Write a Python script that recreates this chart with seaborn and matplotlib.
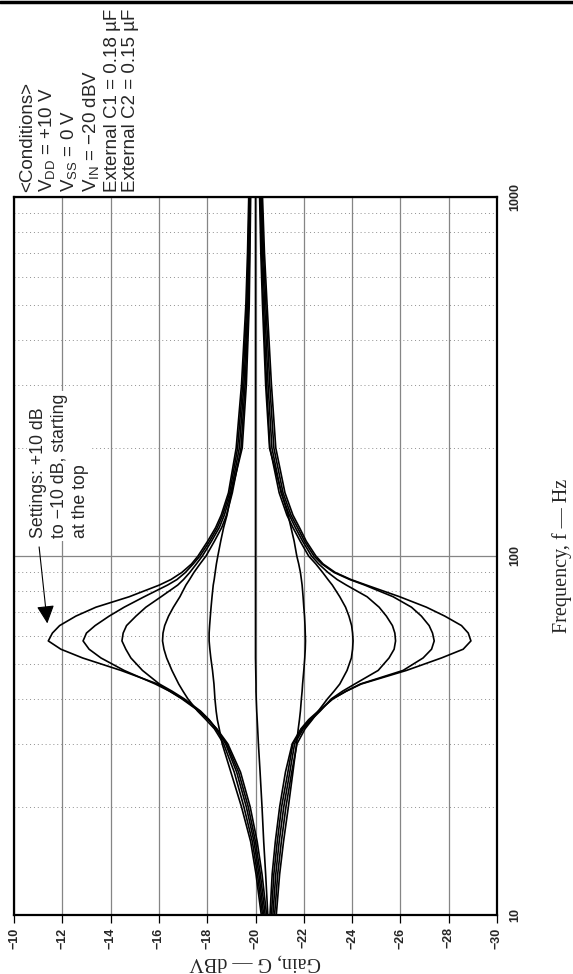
import pandas as pd
import matplotlib
matplotlib.use("Agg")
import matplotlib.pyplot as plt
import seaborn as sns
from matplotlib.lines import Line2D

freqs = [10, 13, 16, 20, 25, 30, 33, 35, 37, 40, 42, 44, 48, 52, 55, 58, 61, 64, 68, 72, 77, 83,
         86, 90, 95, 100, 110, 120, 130, 150, 200, 300, 500, 700, 1000]

# gain (dBV) per setting
gain_p10 = [-20.46, -20.27, -20.07, -19.78, -19.38, -18.85, -18.40, -18.05, -17.65, -16.95, -16.45, -15.95,
            -14.43, -12.84, -11.94, -11.42, -11.59, -11.89, -12.56, -13.39, -14.77, -16.02, -16.50, -16.95,
            -17.35, -17.62, -18.02, -18.35, -18.58, -18.88, -19.20, -19.42, -19.60, -19.67, -19.72]
gain_p8 = [-20.40, -20.20, -20.00, -19.70, -19.30, -18.80, -18.38, -18.06, -17.68, -17.00, -16.45, -15.85,
           -14.56, -13.60, -13.11, -12.86, -13.00, -13.36, -13.94, -14.56, -15.39, -16.36, -16.75, -17.10,
           -17.42, -17.70, -18.10, -18.42, -18.64, -18.93, -19.26, -19.47, -19.64, -19.70, -19.74]
gain_p6 = [-20.34, -20.14, -19.94, -19.62, -19.22, -18.76, -18.36, -18.08, -17.72, -17.05, -16.55, -16.02,
           -15.32, -14.84, -14.63, -14.47, -14.52, -14.66, -15.05, -15.46, -16.09, -16.78, -17.02, -17.28,
           -17.55, -17.80, -18.18, -18.50, -18.71, -18.98, -19.33, -19.52, -19.68, -19.72, -19.76]
gain_p4 = [-20.29, -20.08, -19.87, -19.52, -19.12, -18.68, -18.30, -17.95, -17.60, -17.20, -17.00, -16.82,
           -16.54, -16.32, -16.21, -16.15, -16.17, -16.24, -16.40, -16.60, -16.87, -17.12, -17.27, -17.45,
           -17.70, -17.95, -18.30, -18.60, -18.80, -19.04, -19.40, -19.57, -19.71, -19.75, -19.78]
gain_p2 = [-20.24, -20.02, -19.80, -19.42, -18.98, -18.62, -18.50, -18.42, -18.37, -18.32, -18.30, -18.28,
           -18.22, -18.15, -18.11, -18.08, -18.08, -18.10, -18.13, -18.16, -18.20, -18.25, -18.29, -18.33,
           -18.38, -18.44, -18.56, -18.68, -18.82, -19.00, -19.45, -19.62, -19.74, -19.77, -19.80]
gain_0 = [-20.51, -20.42, -20.34, -20.27, -20.19, -20.12, -20.09, -20.07, -20.05, -20.03, -20.02, -20.02,
          -20.01, -20.00, -20.00, -20.00, -20.00, -20.00, -20.00, -20.00, -20.00, -20.00, -20.00, -20.00,
          -20.00, -20.00, -20.00, -20.00, -20.00, -20.00, -20.00, -20.00, -20.00, -20.00, -20.00]
gain_m2 = [-20.86, -21.00, -21.16, -21.36, -21.55, -21.70, -21.77, -21.82, -21.86, -21.90, -21.93, -21.95,
           -22.00, -22.04, -22.06, -22.07, -22.06, -22.05, -22.03, -22.00, -21.97, -21.93, -21.90, -21.86,
           -21.79, -21.71, -21.60, -21.47, -21.35, -21.08, -20.58, -20.42, -20.29, -20.22, -20.17]
gain_m4 = [-20.79, -20.92, -21.07, -21.26, -21.50, -21.72, -22.05, -22.35, -22.60, -22.98, -23.25, -23.49,
           -23.79, -23.97, -24.02, -24.04, -24.02, -23.98, -23.87, -23.73, -23.49, -23.18, -23.00, -22.78,
           -22.50, -22.20, -21.85, -21.55, -21.30, -20.98, -20.60, -20.46, -20.33, -20.25, -20.20]
gain_m6 = [-20.72, -20.84, -20.98, -21.17, -21.42, -21.62, -21.98, -22.32, -22.68, -23.14, -23.60, -24.11,
           -25.08, -25.53, -25.74, -25.80, -25.77, -25.67, -25.42, -25.12, -24.62, -23.76, -23.38, -23.00,
           -22.62, -22.32, -21.95, -21.65, -21.40, -21.06, -20.68, -20.52, -20.38, -20.29, -20.23]
gain_m8 = [-20.66, -20.76, -20.90, -21.08, -21.34, -21.55, -21.93, -22.26, -22.65, -23.18, -23.75, -24.34,
           -26.11, -26.94, -27.29, -27.40, -27.33, -27.19, -26.87, -26.46, -25.70, -24.52, -23.90, -23.25,
           -22.75, -22.42, -22.03, -21.74, -21.47, -21.14, -20.76, -20.59, -20.43, -20.33, -20.26]
gain_m10 = [-20.60, -20.69, -20.82, -21.00, -21.24, -21.52, -21.88, -22.20, -22.60, -23.21, -23.75, -24.38,
            -26.25, -27.70, -28.60, -28.92, -28.81, -28.53, -27.84, -27.08, -25.97, -24.59, -23.95, -23.30,
            -22.80, -22.50, -22.10, -21.82, -21.55, -21.22, -20.84, -20.66, -20.48, -20.37, -20.29]

settings = ["+10", "+8", "+6", "+4", "+2", "0", "-2", "-4", "-6", "-8", "-10"]
curves = [gain_p10, gain_p8, gain_p6, gain_p4, gain_p2, gain_0,
          gain_m2, gain_m4, gain_m6, gain_m8, gain_m10]

gain_ticks = [-10, -12, -14, -16, -18, -20, -22, -24, -26, -28, -30]
gain_tick_labels = ["\u221210", "\u221212", "\u221214", "\u221216", "\u221218", "\u221220",
                    "\u221222", "\u221224", "\u221226", "\u221228", "\u221230"]
freq_ticks = [10, 100, 1000]
freq_tick_labels = ["10", "100", "1000"]
minor_freqs = [20, 30, 40, 50, 60, 70, 80, 90, 200, 300, 400, 500, 600, 700, 800, 900]

conditions = ("<Conditions>\n"
              "V$_{\\mathregular{DD}}$ = +10 V\n"
              "V$_{\\mathregular{SS}}$ = 0 V\n"
              "V$_{\\mathregular{IN}}$ = \u221220 dBV\n"
              "External C1 = 0.18 \u00b5F\n"
              "External C2 = 0.15 \u00b5F")
note = "Settings: +10 dB\nto \u221210 dB, starting\nat the top"

sns.set_style("white")
plt.rcParams["font.family"] = ["Liberation Sans", "DejaVu Sans"]
serif = ["Liberation Serif", "DejaVu Serif"]

rows = [(s, f, g) for s, gains in zip(settings, curves) for f, g in zip(freqs, gains)]
df = pd.DataFrame(rows, columns=["setting", "freq", "gain"])

W, H = 573, 974
fig = plt.figure(figsize=(W / 100, H / 100), dpi=100)
ax = fig.add_axes([14 / W, 1 - 915 / H, (497 - 14) / W, (915 - 197) / H])
ax.set_yscale("log")

sns.lineplot(data=df, x="gain", y="freq", units="setting", estimator=None, orient="y",
             color="black", linewidth=1.2, ax=ax, zorder=3)

ax.set_xlim(-10, -30)
ax.set_ylim(10, 1000)
ax.set_xlabel("")
ax.set_ylabel("")

ax.set_xticks(gain_ticks)
ax.set_xticklabels(gain_tick_labels, rotation=90, fontsize=9, fontweight="bold")
ax.yaxis.tick_right()
ax.set_yticks(freq_ticks)
ax.set_yticklabels(freq_tick_labels, rotation=90, va="center", fontsize=9, fontweight="bold")
ax.set_yticks(minor_freqs, minor=True)
ax.yaxis.set_minor_formatter(plt.NullFormatter())
ax.tick_params(axis="y", which="both", length=0, pad=9)
ax.tick_params(axis="x", which="major", length=6, width=0.9, direction="out", pad=3,
               bottom=True, top=False, color="black")

ax.set_axisbelow(True)
ax.grid(True, which="major", axis="x", color="#858585", lw=0.9, ls="-")
ax.grid(True, which="major", axis="y", color="#858585", lw=0.9, ls="-")
ax.grid(True, which="minor", axis="y", color="#8f8f8f", lw=0.7, ls=(0, (1, 3)))
for sp in ax.spines.values():
    sp.set_color("black")
    sp.set_linewidth(1.6)

ax.text(-10.66, 112, note, rotation=90, ha="left", va="bottom", fontsize=12.8, linespacing=1.3,
        bbox=dict(facecolor="white", edgecolor="none", pad=2), zorder=4)
ax.annotate("", xy=(-11.38, 64.9), xytext=(-11.04, 106),
            arrowprops=dict(arrowstyle="-|>,head_length=0.55,head_width=0.27", mutation_scale=20,
                            color="black", lw=0.8, shrinkA=0, shrinkB=0), zorder=5)

fig.text(19 / W, 1 - 192 / H, conditions, rotation=90, ha="left", va="bottom",
         fontsize=13.5, linespacing=1.12)
fig.text(562 / W, 1 - 556 / H, "Frequency, f \u2014 Hz", rotation=90, ha="center", va="center",
         fontsize=14.5, family=serif)
fig.text(255 / W, 1 - 962 / H, "Gain, G \u2014 dBV", rotation=180, ha="center", va="center",
         fontsize=14.5, family=serif)
fig.add_artist(Line2D([0, 1], [1 - 1.5 / H, 1 - 1.5 / H], transform=fig.transFigure,
                      color="black", lw=2.5))

fig.savefig("out.png", dpi=100)
plt.close(fig)
